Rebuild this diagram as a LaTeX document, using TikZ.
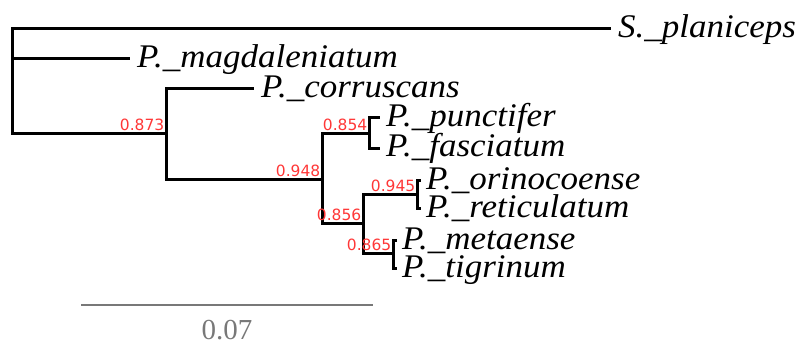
\documentclass[tikz,border=0pt]{standalone}
\usepackage{fontspec}
\setmainfont{Liberation Serif}
\newfontfamily\taxfont[FakeStretch=1.06,UprightFont={* Italic}]{Liberation Serif}
\newfontfamily\numfont{DejaVu Sans}
\usetikzlibrary{calc}
\definecolor{suppred}{RGB}{255,55,55}
\definecolor{bargray}{RGB}{120,120,120}
\tikzset{
  branch/.style={line width=3pt, black, line cap=rect},
  tiplabel/.style={anchor=base west, inner sep=0pt, font=\taxfont\fontsize{33}{33}\selectfont},
  supp/.style={anchor=base east, inner sep=0pt, text=suppred, font=\numfont\fontsize{15.5}{15.5}\selectfont},
  scalebar/.style={line width=2.2pt, bargray},
  scaletext/.style={anchor=base, inner sep=0pt, text=bargray, font=\fontsize{29}{29}\selectfont}
}
\begin{document}
\begin{tikzpicture}[x=1pt, y=-1pt]
\useasboundingbox (0,0) rectangle (804,345);
% tips
\coordinate (tS) at (609,29);
\coordinate (tM) at (128,59);
\coordinate (tCo) at (252,89);
\coordinate (tPu) at (378,118);
\coordinate (tFa) at (378,148);
\coordinate (tOr) at (419,180);
\coordinate (tRe) at (419,208);
\coordinate (tMe) at (395,240);
\coordinate (tTi) at (395,268);
% internal nodes
\coordinate (root) at (12,133);
\coordinate (nA) at (166,133);
\coordinate (nB) at (322,179);
\coordinate (nC) at (369,133);
\coordinate (nD) at (363,223);
\coordinate (nE) at (417,194);
\coordinate (nF) at (393,253);
% branches
\draw[branch] (tS) -- (tS -| root) -- (root) -- (nA);
\draw[branch] (tM) -- (tM -| root);
\draw[branch] (tCo) -- (tCo -| nA) -- (nB -| nA) -- (nB);
\draw[branch] (nC) -- (nC -| nB) -- (nD -| nB) -- (nD);
\draw[branch] (tPu) -- (tPu -| nC) -- (tFa -| nC) -- (tFa);
\draw[branch] (nE) -- (nE -| nD) -- (nF -| nD) -- (nF);
\draw[branch] (tOr) -- (tOr -| nE) -- (tRe -| nE) -- (tRe);
\draw[branch] (tMe) -- (tMe -| nF) -- (tTi -| nF) -- (tTi);
% tip labels
\node[tiplabel] (lS) at ($(tS)+(9,9)$) {S.\_planiceps};
\node[tiplabel] (lM) at ($(tM)+(9,9)$) {P.\_magdaleniatum};
\node[tiplabel] (lCo) at ($(tCo)+(9,9)$) {P.\_corruscans};
\node[tiplabel] (lPu) at ($(tPu)+(8,9)$) {P.\_punctifer};
\node[tiplabel] (lFa) at ($(tFa)+(8,9)$) {P.\_fasciatum};
\node[tiplabel] (lOr) at ($(tOr)+(7,9)$) {P.\_orinocoense};
\node[tiplabel] (lRe) at ($(tRe)+(7,9)$) {P.\_reticulatum};
\node[tiplabel] (lMe) at ($(tMe)+(7,9)$) {P.\_metaense};
\node[tiplabel] (lTi) at ($(tTi)+(7,9)$) {P.\_tigrinum};
% support values
\node[supp] (sA) at ($(nA)+(-1.5,-2.5)$) {0.873};
\node[supp] (sB) at ($(nB)+(-1.5,-3)$) {0.948};
\node[supp] (sC) at ($(nC)+(-1.5,-3)$) {0.854};
\node[supp] (sD) at ($(nD)+(-1.5,-3)$) {0.856};
\node[supp] (sE) at ($(nE)+(-1.5,-3)$) {0.945};
\node[supp] (sF) at ($(nF)+(-1.5,-3)$) {0.865};
% scale bar
\coordinate (b1) at (81,305);
\coordinate (b2) at (373,305);
\draw[scalebar] (b1) -- (b2);
\node[scaletext] (bl) at (227,339.5) {0.07};
\end{tikzpicture}
\end{document}
